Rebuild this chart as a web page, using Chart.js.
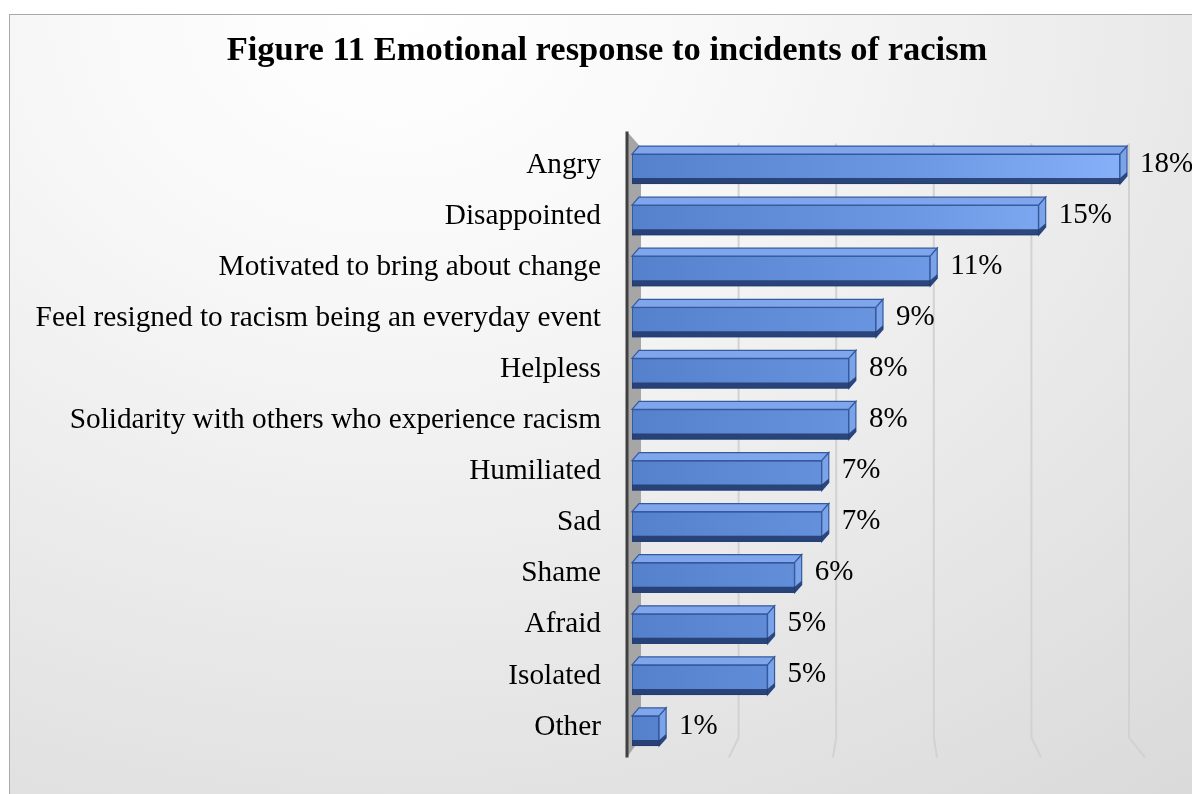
<!DOCTYPE html>
<html>
<head>
<meta charset="utf-8">
<script src="https://cdn.jsdelivr.net/npm/chart.js@4/dist/chart.umd.min.js"></script>
<style>
  html, body { margin: 0; padding: 0; width: 1192px; height: 794px; overflow: hidden; background: #ffffff; }
  #frame {
    position: absolute; left: 9px; top: 14px; width: 1200px; height: 800px;
    border: 1px solid #a9a9a9;
    background: radial-gradient(ellipse 110% 130% at 32% 0%, #ffffff 0%, #f8f8f8 25%, #e8e8e8 62%, #d8d8d8 100%);
  }
  #wrap { position: absolute; left: 0; top: 0; width: 1192px; height: 794px; }
</style>
</head>
<body>
<div id="frame"></div>
<div id="wrap"><canvas id="chart" width="1192" height="794"></canvas></div>
<script>
// Survey answers, top to bottom
const categories = [
  'Angry',
  'Disappointed',
  'Motivated to bring about change',
  'Feel resigned to racism being an everyday event',
  'Helpless',
  'Solidarity with others who experience racism',
  'Humiliated',
  'Sad',
  'Shame',
  'Afraid',
  'Isolated',
  'Other'
];
// Share of respondents (%)
const shares = [18, 15, 11, 9, 8, 8, 7, 7, 6, 5, 5, 1];

const titleText = 'Figure 11 Emotional response to incidents of racism';
const serif = "'Liberation Serif', 'Times New Roman', serif";

// depth of the pseudo-3D extrusion
const DX = 7, DY = 8;

function frontGradient(ctx) {
  const area = ctx.chart.chartArea;
  if (!area) return '#5b86d2';
  const g = ctx.chart.ctx.createLinearGradient(area.left, 0, area.right, 0);
  g.addColorStop(0, '#5580cc');
  g.addColorStop(0.55, '#6a96e2');
  g.addColorStop(1, '#86b0f8');
  return g;
}

// back wall, floor gridlines and the value axis
const wallPlugin = {
  id: 'wall',
  beforeDatasetsDraw(chart) {
    const { ctx, chartArea: a, scales: { x } } = chart;
    ctx.save();
    // gridlines on the back wall with their floor feet
    const vx = (x.left + x.right) / 2 + DX + 2;
    const floorTop = a.bottom - 19;
    ctx.strokeStyle = '#d2d2d2';
    ctx.lineWidth = 2;
    x.ticks.forEach(t => {
      if (t.value <= 0) return;
      const gx = x.getPixelForValue(t.value) + DX + 2;
      ctx.beginPath();
      ctx.moveTo(gx, a.top);
      ctx.lineTo(gx, floorTop);
      ctx.lineTo(gx + (gx - vx) * 0.066, a.bottom + 1);
      ctx.stroke();
    });
    // side wall
    const ax = a.left - 5;
    ctx.fillStyle = '#a6a6a6';
    ctx.beginPath();
    ctx.moveTo(ax, a.top - 12);
    ctx.lineTo(a.left + 9, a.top + 4);
    ctx.lineTo(a.left + 9, floorTop);
    ctx.lineTo(ax, a.bottom + 1);
    ctx.closePath();
    ctx.fill();
    // axis line
    ctx.strokeStyle = '#404040';
    ctx.lineWidth = 3;
    ctx.beginPath();
    ctx.moveTo(ax, a.top - 12);
    ctx.lineTo(ax, a.bottom + 1);
    ctx.stroke();
    ctx.restore();
  },
  afterDatasetsDraw(chart) {
    const { ctx } = chart;
    const meta = chart.getDatasetMeta(0);
    ctx.save();
    meta.data.forEach((bar, i) => {
      const { x, y, base, height } = bar.getProps(['x', 'y', 'base', 'height'], true);
      const top = y - height / 2, bottom = y + height / 2;
      // top face
      ctx.fillStyle = '#7fa6ec';
      ctx.strokeStyle = '#35599c';
      ctx.lineWidth = 1.2;
      ctx.beginPath();
      ctx.moveTo(base, top);
      ctx.lineTo(x, top);
      ctx.lineTo(x + DX, top - DY);
      ctx.lineTo(base + DX, top - DY);
      ctx.closePath();
      ctx.fill();
      ctx.stroke();
      // right face
      ctx.fillStyle = '#7aa3ea';
      ctx.beginPath();
      ctx.moveTo(x, top);
      ctx.lineTo(x + DX, top - DY);
      ctx.lineTo(x + DX, bottom - DY);
      ctx.lineTo(x, bottom);
      ctx.closePath();
      ctx.fill();
      ctx.stroke();
      // dark lower lip
      ctx.fillStyle = 'rgba(32,55,105,0.85)';
      ctx.beginPath();
      ctx.moveTo(base, bottom - 6);
      ctx.lineTo(x, bottom - 6);
      ctx.lineTo(x + DX, bottom - DY - 4);
      ctx.lineTo(x + DX, bottom - DY);
      ctx.lineTo(x, bottom);
      ctx.lineTo(base, bottom);
      ctx.closePath();
      ctx.fill();
      // value label
      ctx.fillStyle = '#000000';
      ctx.font = '29px ' + serif;
      ctx.textAlign = 'left';
      ctx.textBaseline = 'middle';
      ctx.fillText(shares[i] + '%', x + DX + 13, y - 5);
    });
    ctx.restore();
  },
  afterDraw(chart) {
    const { ctx } = chart;
    ctx.save();
    ctx.fillStyle = '#000000';
    ctx.font = 'bold 34.5px ' + serif;
    ctx.textAlign = 'center';
    ctx.textBaseline = 'middle';
    ctx.fillText(titleText, 607, 51);
    ctx.restore();
  }
};

new Chart(document.getElementById('chart'), {
  type: 'bar',
  data: {
    labels: categories,
    datasets: [{
      data: shares,
      backgroundColor: frontGradient,
      borderColor: '#2f5597',
      borderWidth: 1.2,
      borderSkipped: false,
      barThickness: 30
    }]
  },
  options: {
    indexAxis: 'y',
    responsive: false,
    animation: false,
    devicePixelRatio: 1,
    layout: { padding: { left: 0, right: 72, top: 143.5, bottom: 37.5 } },
    plugins: {
      legend: { display: false },
      title: { display: false },
      tooltip: { enabled: false }
    },
    scales: {
      x: {
        display: false,
        min: 0,
        max: 18,
        ticks: { stepSize: 3.6 }
      },
      y: {
        position: 'left',
        grid: { display: false, drawTicks: false },
        border: { display: false },
        ticks: {
          color: '#000000',
          font: { family: serif, size: 29.3 },
          padding: 31,
          labelOffset: -4,
          autoSkip: false
        },
        afterFit(scale) {
          scale.width = 632;
          scale.paddingTop = 0;
          scale.paddingBottom = 0;
        }
      }
    }
  },
  plugins: [wallPlugin]
});
</script>
</body>
</html>
